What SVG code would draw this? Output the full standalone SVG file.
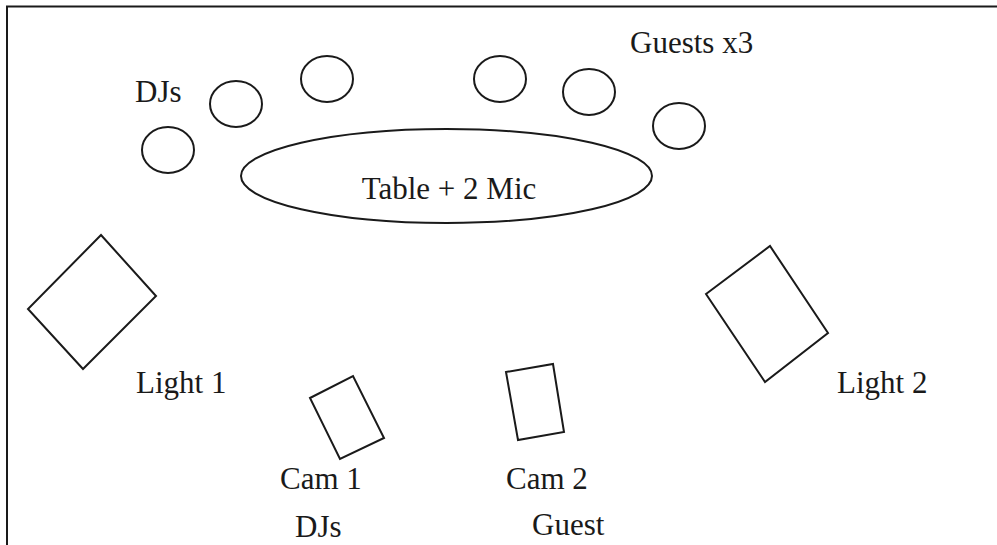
<svg xmlns="http://www.w3.org/2000/svg" width="997" height="545" viewBox="0 0 997 545">
<style>
.s{fill:none;stroke:#1a1a1a;stroke-width:2}
.t{font-family:'Liberation Serif','Times New Roman',Times,'DejaVu Serif',serif;font-size:31px;fill:#1a1a1a}
</style>
<rect width="997" height="545" fill="#ffffff"/>
<g id="frame"><path class="s" d="M7,545 V6.5 H997" stroke-width="2.5"/></g>
<g id="table"><ellipse class="s" cx="446.5" cy="176" rx="205.5" ry="47"/><text class="t" x="449" y="199" text-anchor="middle">Table + 2 Mic</text></g>
<g id="dj1"><ellipse class="s" cx="168" cy="150" rx="26" ry="23"/></g>
<g id="dj2"><ellipse class="s" cx="236" cy="104" rx="26" ry="23"/></g>
<g id="dj3"><ellipse class="s" cx="327" cy="79" rx="26" ry="23"/></g>
<g id="guest1"><ellipse class="s" cx="500" cy="79" rx="26" ry="23"/></g>
<g id="guest2"><ellipse class="s" cx="589" cy="92" rx="26" ry="23"/></g>
<g id="guest3"><ellipse class="s" cx="679" cy="126" rx="26" ry="23"/></g>
<g id="djs-label"><text class="t" x="135" y="102">DJs</text></g>
<g id="guests-label"><text class="t" x="630" y="53">Guests x3</text></g>
<g id="light1"><polygon class="s" points="101,235 156,296 83,369 28,309"/><text class="t" x="136" y="393">Light 1</text></g>
<g id="light2"><polygon class="s" points="706,294 770,246 828,333 765,382"/><text class="t" x="837" y="393">Light 2</text></g>
<g id="cam1"><polygon class="s" points="310,398 353,376 384,438 340,459"/><text class="t" x="280" y="489">Cam 1</text><text class="t" x="295" y="537">DJs</text></g>
<g id="cam2"><polygon class="s" points="506,372 553,364 564,432 518,440"/><text class="t" x="506" y="489">Cam 2</text><text class="t" x="532" y="535">Guest</text></g>
<g id="connectors"></g>
</svg>
